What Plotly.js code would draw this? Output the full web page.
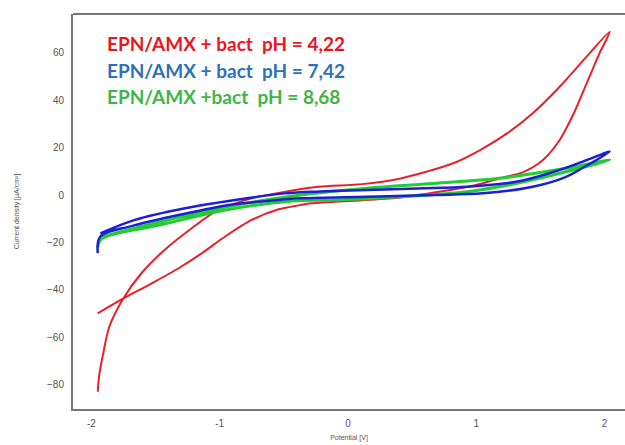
<!DOCTYPE html>
<html>
<head>
<meta charset="utf-8">
<script src="https://cdn.plot.ly/plotly-3.0.1.min.js"></script>
<style>html,body{margin:0;padding:0;background:#fff;}#chart{width:625px;height:445px;}</style>
</head>
<body>
<div id="chart"></div>
<script>
// Red loop (pH 4.22): upper branch then return branch
const redV = [-1.95,-1.94,-1.91,-1.86,-1.75,-1.61,-1.43,-1.22,-1.01,-0.75,-0.49,-0.23,0.11,0.41,0.61,0.82,1.03,1.24,1.44,1.65,1.86,2.04,
              1.96,1.86,1.76,1.65,1.52,1.37,1.18,1.00,0.80,0.56,0.41,0.11,-0.28,-0.40,-0.54,-0.75,-0.96,-1.14,-1.32,-1.53,-1.75,-1.95];
const redI = [-83,-76.5,-67.5,-55.6,-43.6,-33,-23.2,-14.1,-6.3,-1.4,1.4,3.5,4.6,7.0,9.8,13.4,19.0,26.0,34.5,45.7,58.4,68.9,
              59.8,47.1,34.5,23.2,14.8,9.8,7.0,4.2,2.1,0.2,-1.0,-2.2,-3.5,-4.5,-6.0,-10.5,-17.6,-24.6,-30.9,-37.3,-43.6,-49.9];

// Blue loop (pH 7.42)
const blueV = [-1.95,-1.93,-1.68,-1.41,-1.15,-0.90,-0.63,-0.37,0.15,0.66,1.05,1.44,1.70,1.83,2.04,
               1.83,1.57,1.31,0.93,0.54,0.15,-0.22,-0.49,-0.88,-1.27,-1.66,-1.93];
const blueI = [-24.5,-17.5,-13,-9.5,-6.5,-4,-2.5,-1.4,-0.7,0,0.7,3.5,7.7,11.5,18.3,
               14.1,9.2,5.6,3.5,2.8,2.1,1.5,0.7,-2.1,-5.6,-10.5,-16.2];

// Green loop (pH 8.68)
const greenV = [-1.95,-1.92,-1.47,-0.95,-0.43,-0.11,0.41,0.93,1.31,1.70,2.04,
                1.70,1.18,0.66,0.15,-0.37,-0.95,-1.47,-1.92];
const greenI = [-22,-18.5,-12.7,-6.3,-2.5,-2.1,-0.7,1.4,4.9,9.8,14.8,
                11.3,7.1,4.9,2.9,0.0,-5,-11.4,-17.7];

const labels = ["EPN/AMX + bact  pH = 4,22","EPN/AMX + bact  pH = 7,42","EPN/AMX +bact  pH = 8,68"];
const labelColors = ["#e8161f","#2f70b8","#3db54a"];
const lineColors = ["#e8202a","#1c1fd6","#22cc33"];

const traces = [
  {x: redV, y: redI, mode: "lines", line: {color: lineColors[0], width: 2, shape: "spline", smoothing: 0.8}},
  {x: greenV, y: greenI, mode: "lines", line: {color: lineColors[2], width: 3, shape: "spline"}},
  {x: blueV, y: blueI, mode: "lines", line: {color: lineColors[1], width: 2.5, shape: "spline"}}
];

const annY = [63.8, 52.4, 41.4];
const annotations = labels.map((t, i) => ({
  text: t, x: -1.89, y: annY[i], xref: "x", yref: "y", xanchor: "left", yanchor: "middle",
  showarrow: false, font: {family: "Lato", size: 19, color: labelColors[i], weight: "bold"}
}));

const layout = {
  width: 625, height: 445,
  margin: {l: 73, r: 0, t: 14, b: 36},
  paper_bgcolor: "#fff", plot_bgcolor: "#fff",
  showlegend: false,
  font: {family: "Arial", color: "#555"},
  xaxis: {
    range: [-2.143, 2.159], tickvals: [-2,-1,0,1,2], ticktext: ["-2","-1","0","1","2"],
    showgrid: false, zeroline: false, showline: true, linecolor: "#777", linewidth: 2,
    ticks: "", ticklabelstandoff: 4, tickfont: {size: 10, color: "#555"},
    title: {text: "Potential [V]", font: {size: 7, color: "#555"}, standoff: 7}
  },
  yaxis: {
    range: [-90.3, 76.4], tickvals: [-80,-60,-40,-20,0,20,40,60],
    showgrid: false, zeroline: false, showline: true, linecolor: "#777", linewidth: 2,
    ticks: "", ticklabelstandoff: 5, tickfont: {size: 10, color: "#555"},
    title: {text: "Current density [µA/cm²]", font: {size: 7, color: "#555"}, standoff: 27}
  },
  shapes: [{type: "line", xref: "paper", yref: "paper", x0: 0, x1: 1, y0: 1, y1: 1, line: {color: "#777", width: 2}}],
  annotations: annotations
};

Plotly.newPlot("chart", traces, layout, {displayModeBar: false, staticPlot: true});
</script>
</body>
</html>
